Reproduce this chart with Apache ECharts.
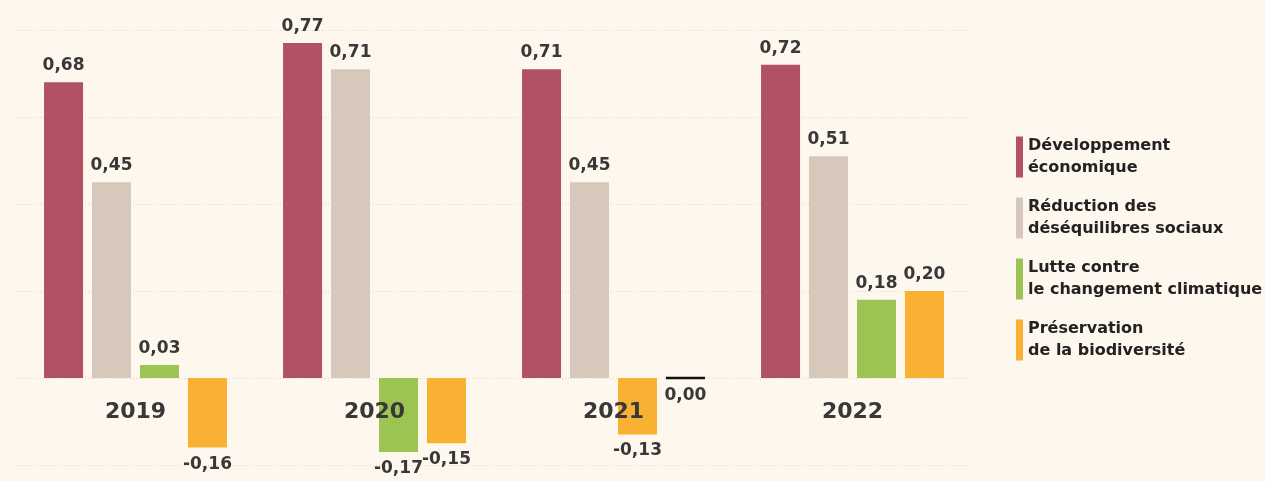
<!DOCTYPE html>
<html>
<head>
<meta charset="utf-8">
<style>
  html, body { margin: 0; padding: 0; background: #fef7ed; }
  #chart { width: 1265px; height: 481px; }
</style>
<script src="https://cdn.jsdelivr.net/npm/echarts@6/dist/echarts.min.js"></script>
</head>
<body>
<div id="chart"></div>
<script>
  // années (catégories)
  const years = ['2019', '2020', '2021', '2022'];

  // noms des séries + libellés de légende sur deux lignes
  const seriesNames = [
    'Développement économique',
    'Réduction des déséquilibres sociaux',
    'Lutte contre le changement climatique',
    'Préservation de la biodiversité'
  ];
  const legendLabels = [
    'Développement\néconomique',
    'Réduction des\ndéséquilibres sociaux',
    'Lutte contre\nle changement climatique',
    'Préservation\nde la biodiversité'
  ];

  // valeurs
  const devEconomique = [0.68, 0.77, 0.71, 0.72];
  const desequilibres = [0.45, 0.71, 0.45, 0.51];
  const climat = [0.03, -0.17, 0.00, 0.18];
  const biodiversite = [-0.16, -0.15, -0.13, 0.20];

  const colors = ['#b05263', '#d6c9bc', '#9bc453', '#f8b133'];
  const allValues = [devEconomique, desequilibres, climat, biodiversite];

  // en 2021 l'original montre la biodiversité avant le climat
  const swappedYears = ['2021'];

  const fontFamily = '"DejaVu Sans", sans-serif';
  const fmt = v => v.toFixed(2).replace('.', ',');

  const chart = echarts.init(document.getElementById('chart'));

  // slot -> indice de la série dont la valeur est dessinée, année par année
  function sourceIndex(slot, year) {
    if (swappedYears.indexOf(year) >= 0 && (slot === 2 || slot === 3)) return 5 - slot;
    return slot;
  }

  const series = seriesNames.map((name, slot) => ({
    name: name,
    type: 'bar',
    barWidth: 39,
    barGap: '23%',
    itemStyle: { color: colors[slot] },
    data: years.map((year, j) => {
      const src = sourceIndex(slot, year);
      const v = allValues[src][j];
      return {
        value: v,
        // une valeur nulle est dessinée comme un trait noir
        itemStyle: v === 0
          ? { color: colors[src], borderColor: '#111', borderWidth: 2.5 }
          : { color: colors[src] },
        label: { position: v > 0 ? 'top' : 'bottom' }
      };
    }),
    label: {
      show: true,
      distance: 8,
      color: '#383838',
      fontFamily: fontFamily,
      fontWeight: 'bold',
      fontSize: 17,
      formatter: p => fmt(p.value)
    }
  }));

  chart.setOption({
    backgroundColor: '#fef7ed',
    animation: false,
    color: colors,
    grid: {
      left: 16, right: 293, top: 30, bottom: 16,
      containLabel: false,
      outerBoundsMode: 'none'
    },
    legend: {
      orient: 'vertical',
      left: 1016,
      top: 135,
      padding: 0,
      icon: 'rect',
      itemWidth: 7,
      itemHeight: 41,
      itemGap: 17,
      data: seriesNames,
      formatter: name => legendLabels[seriesNames.indexOf(name)],
      textStyle: {
        color: '#222',
        fontFamily: fontFamily,
        fontWeight: 'bold',
        fontSize: 16,
        lineHeight: 22
      }
    },
    xAxis: {
      type: 'category',
      data: years,
      z: 10,
      offset: -87, // ramène les années sous la ligne du zéro
      axisLine: { show: false, onZero: false },
      axisTick: { show: false },
      axisLabel: {
        margin: 23,
        color: '#383838',
        fontFamily: fontFamily,
        fontWeight: 'bold',
        fontSize: 22
      }
    },
    yAxis: {
      type: 'value',
      min: -0.2,
      max: 0.8,
      interval: 0.2,
      axisLabel: { show: false },
      axisLine: { show: false },
      axisTick: { show: false },
      splitLine: { lineStyle: { color: '#e3d7c6', type: [1, 2], width: 1 } }
    },
    series: series
  });
</script>
</body>
</html>
